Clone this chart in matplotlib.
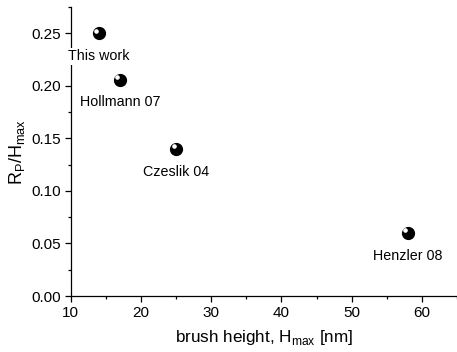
import matplotlib
matplotlib.use("Agg")
import matplotlib.pyplot as plt
from matplotlib.ticker import MultipleLocator

plt.rcParams['font.family'] = ['Liberation Sans', 'DejaVu Sans']

labels = ["This work", "Hollmann 07", "Czeslik 04", "Henzler 08"]
heights = [14, 17, 25, 58]
ratios = [0.250, 0.206, 0.140, 0.060]

fig = plt.figure(figsize=(4.57, 3.52), dpi=100)
ax = fig.add_axes([0.155, 0.159, 0.845, 0.821])

ax.plot(heights, ratios, 'o', color='black', markersize=8.5, zorder=3, linestyle='none')
ax.plot(heights, ratios, 'o', color='white', markersize=2.3, zorder=4, linestyle='none',
        transform=ax.transData + matplotlib.transforms.ScaledTranslation(-1.9/72, 1.9/72, fig.dpi_scale_trans))

for lab, x, y in zip(labels, heights, ratios):
    ax.annotate(lab, (x, y), xytext=(0, -16.5), textcoords='offset points',
                ha='center', va='center', fontsize=10.3, zorder=5,
                bbox=dict(boxstyle='square,pad=0.1', fc='white', ec='none'),
                annotation_clip=False).set_clip_on(False)

ax.set_xlim(10, 65)
ax.set_ylim(0, 0.275)
ax.xaxis.set_major_locator(MultipleLocator(10))
ax.xaxis.set_minor_locator(MultipleLocator(5))
ax.yaxis.set_major_locator(MultipleLocator(0.05))
ax.yaxis.set_minor_locator(MultipleLocator(0.025))
ax.yaxis.set_major_formatter(matplotlib.ticker.FormatStrFormatter('%.2f'))
ax.set_xticks([10, 20, 30, 40, 50, 60])

for s in ['top', 'right']:
    ax.spines[s].set_visible(False)
for s in ['left', 'bottom']:
    ax.spines[s].set_linewidth(0.9)
ax.tick_params(which='major', direction='out', length=4, width=0.9, labelsize=11, pad=3)
ax.tick_params(which='minor', direction='out', length=2.5, width=0.9)

ax.set_xlabel(r'brush height, H$_{\mathregular{max}}$ [nm]', fontsize=12.3, labelpad=6)
ax.set_ylabel(r'R$_{\mathregular{P}}$/H$_{\mathregular{max}}$', fontsize=13, labelpad=3)

fig.savefig('out.png', dpi=100)
